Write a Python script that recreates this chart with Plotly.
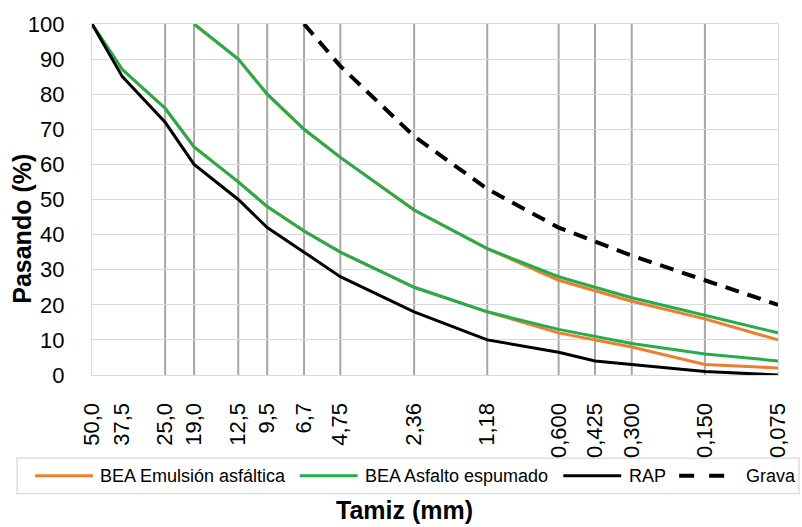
import plotly.graph_objects as go
import math

# Sieve openings (mm) and their printed labels
sieve_mm = [50.0, 37.5, 25.0, 19.0, 12.5, 9.5, 6.7, 4.75, 2.36, 1.18, 0.600, 0.425, 0.300, 0.150, 0.075]
sieve_labels = ["50,0", "37,5", "25,0", "19,0", "12,5", "9,5", "6,7", "4,75", "2,36", "1,18",
                "0,600", "0,425", "0,300", "0,150", "0,075"]

# Sieves that carry a vertical reference line
grid_sieves = [25.0, 19.0, 12.5, 9.5, 6.7, 4.75, 2.36, 1.18, 0.600, 0.425, 0.300, 0.150]

# Percent passing (%) - gradation bands and materials
emulsion_upper = [None, None, None, 100, 90, 80, 70, 62, 47, 36, 27, 24, 21, 16, 10]
emulsion_lower = [100, 87, 76, 65, 55, 48, 41, 35, 25, 18, 12, 10, 8, 3, 2]
foam_upper = [None, None, None, 100, 90, 80, 70, 62, 47, 36, 28, 25, 22, 17, 12]
foam_lower = [100, 87, 76, 65, 55, 48, 41, 35, 25, 18, 13, 11, 9, 6, 4]
rap = [100, 85, 72, 60, 50, 42, 35, 28, 18, 10, 6.5, 4, 3, 1, 0]
grava = [None, None, None, None, None, None, 100, 88, 68, 53, 42, 38, 34, 27, 20]

series_names = ["BEA Emulsión asfáltica", "BEA Asfalto espumado", "RAP", "Grava"]

ORANGE = "#ED7D31"
GREEN = "#25AC4B"
BLACK = "#000000"
FONT = "Liberation Sans"

styles = {
    "BEA Emulsión asfáltica": dict(color=ORANGE, width=3, dash="solid"),
    "BEA Asfalto espumado": dict(color=GREEN, width=3, dash="solid"),
    "RAP": dict(color=BLACK, width=3, dash="solid"),
    "Grava": dict(color=BLACK, width=4, dash="14px,9px"),
}

# Plot-area geometry (pixels)
W_FIG, H_FIG = 802, 527
L, T, R, B = 92, 20, 23, 152
PW, PH = W_FIG - L - R, H_FIG - T - B


def px_x(px):
    return (px - L) / PW


def px_y(py):
    return (T + PH - py) / PH


fig = go.Figure()

traces = [
    (series_names[0], emulsion_upper),
    (series_names[0], emulsion_lower),
    (series_names[1], foam_upper),
    (series_names[1], foam_lower),
    (series_names[2], rap),
    (series_names[3], grava),
]
for name, values in traces:
    fig.add_trace(go.Scatter(
        x=sieve_mm, y=values, mode="lines", name=name,
        line=styles[name], connectgaps=False, showlegend=False,
        hoverinfo="x+y+name",
    ))

shapes = []
# Vertical sieve lines at the sieve openings
for s in grid_sieves:
    shapes.append(dict(type="line", xref="x", yref="paper",
                       x0=s, x1=s, y0=0, y1=1,
                       line=dict(color="#A6A6A6", width=2), layer="between"))

# Legend frame and entries
shapes.append(dict(type="rect", xref="paper", yref="paper",
                   x0=px_x(17), x1=px_x(800), y0=px_y(459), y1=px_y(495),
                   line=dict(color="#D9D9D9", width=1.3), fillcolor="white", layer="below"))

legend_line_x = [35, 300, 564, 680]
legend_text_x = [98, 363, 628, 745]
legend_row_y = 477
annotations = []
for name, lx, tx in zip(series_names, legend_line_x, legend_text_x):
    st = styles[name]
    dash = "15px,15px" if st["dash"] != "solid" else "solid"
    shapes.append(dict(type="line", xref="paper", yref="paper",
                       x0=px_x(lx), x1=px_x(lx + 58), y0=px_y(legend_row_y), y1=px_y(legend_row_y),
                       line=dict(color=st["color"], width=st["width"], dash=dash)))
    annotations.append(dict(text=name, xref="paper", yref="paper",
                            x=px_x(tx), y=px_y(legend_row_y), xanchor="left", yanchor="middle",
                            showarrow=False, font=dict(family=FONT, size=18, color="#000000")))

# Axis titles
annotations.append(dict(text="<b>Tamiz (mm)</b>", xref="paper", yref="paper",
                        x=px_x(405), y=px_y(512), xanchor="center", yanchor="middle",
                        showarrow=False, font=dict(family=FONT, size=25, color="#000000")))
annotations.append(dict(text="<b>Pasando (%)</b>", xref="paper", yref="paper",
                        x=px_x(22), y=px_y(227), xanchor="center", yanchor="middle",
                        textangle=-90, showarrow=False,
                        font=dict(family=FONT, size=25, color="#000000")))

fig.update_layout(
    width=W_FIG, height=H_FIG,
    margin=dict(l=L, r=R, t=T, b=B, pad=0),
    paper_bgcolor="white", plot_bgcolor="white",
    showlegend=False,
    shapes=shapes, annotations=annotations,
    font=dict(family=FONT, color="#000000"),
)

fig.update_xaxes(
    type="log",
    range=[math.log10(sieve_mm[0]), math.log10(sieve_mm[-1])],
    tickmode="array", tickvals=sieve_mm, ticktext=sieve_labels,
    tickangle=-90, tickfont=dict(family=FONT, size=22, color="#000000"),
    ticklabelstandoff=18,
    showgrid=False, zeroline=False,
    showline=True, mirror=True, linecolor="#D9D9D9", linewidth=1.3,
    ticks="",
)
fig.update_yaxes(
    range=[0, 100], dtick=10,
    tickfont=dict(family=FONT, size=22, color="#000000"),
    ticklabelstandoff=22,
    showgrid=True, gridcolor="#D9D9D9", gridwidth=1.3,
    zeroline=False,
    showline=True, mirror=True, linecolor="#D9D9D9", linewidth=1.3,
    ticks="",
)

fig.write_html("out.html")
